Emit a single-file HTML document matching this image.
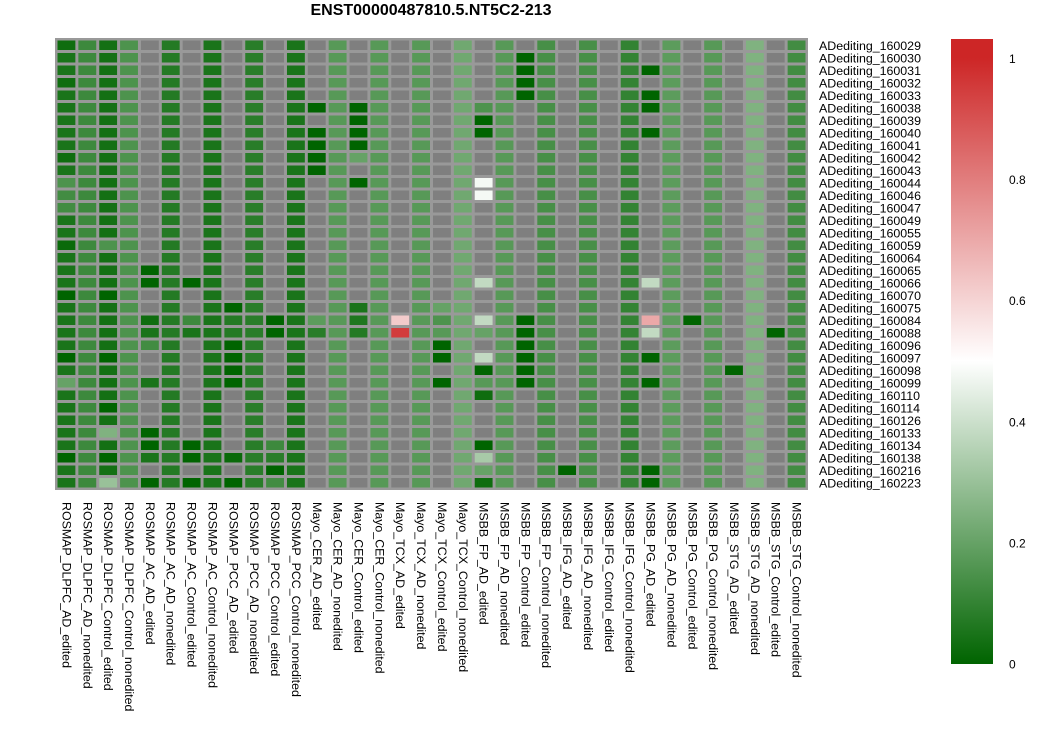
<!DOCTYPE html>
<html><head><meta charset="utf-8"><style>
body{margin:0;background:#fff;}
svg text{font-family:"Liberation Sans",sans-serif;}
</style></head><body>
<svg id="chart" width="1059" height="741" xmlns="http://www.w3.org/2000/svg">
<defs><linearGradient id="lg" x1="0" y1="1" x2="0" y2="0">
<stop offset="0" stop-color="#006400"/><stop offset="0.485" stop-color="#ffffff"/><stop offset="0.97" stop-color="#cd2626"/><stop offset="1" stop-color="#cd2626"/></linearGradient></defs>
<text x="431" y="15" text-anchor="middle" font-size="16" font-weight="bold">ENST00000487810.5.NT5C2-213</text>
<rect x="55" y="38" width="753" height="452" fill="#999"/>
<g id="cells"></g><g id="rlabels"></g><g id="clabels"></g>
<rect x="951" y="39" width="42" height="625" fill="url(#lg)"/>
<g id="legticks"></g>
</svg>
<script>
const rowNames=["160029","160030","160031","160032","160033","160038","160039","160040","160041","160042","160043","160044","160046","160047","160049","160055","160059","160064","160065","160066","160070","160075","160084","160088","160096","160097","160098","160099","160110","160114","160126","160133","160134","160138","160216","160223"];
const colNames=["ROSMAP_DLPFC_AD_edited","ROSMAP_DLPFC_AD_nonedited","ROSMAP_DLPFC_Control_edited","ROSMAP_DLPFC_Control_nonedited","ROSMAP_AC_AD_edited","ROSMAP_AC_AD_nonedited","ROSMAP_AC_Control_edited","ROSMAP_AC_Control_nonedited","ROSMAP_PCC_AD_edited","ROSMAP_PCC_AD_nonedited","ROSMAP_PCC_Control_edited","ROSMAP_PCC_Control_nonedited","Mayo_CER_AD_edited","Mayo_CER_AD_nonedited","Mayo_CER_Control_edited","Mayo_CER_Control_nonedited","Mayo_TCX_AD_edited","Mayo_TCX_AD_nonedited","Mayo_TCX_Control_edited","Mayo_TCX_Control_nonedited","MSBB_FP_AD_edited","MSBB_FP_AD_nonedited","MSBB_FP_Control_edited","MSBB_FP_Control_nonedited","MSBB_IFG_AD_edited","MSBB_IFG_AD_nonedited","MSBB_IFG_Control_edited","MSBB_IFG_Control_nonedited","MSBB_PG_AD_edited","MSBB_PG_AD_nonedited","MSBB_PG_Control_edited","MSBB_PG_Control_nonedited","MSBB_STG_AD_edited","MSBB_STG_AD_nonedited","MSBB_STG_Control_edited","MSBB_STG_Control_nonedited"];
const colBase=[0.05,0.12,0.04,0.15,null,0.07,null,0.05,null,0.08,null,0.05,null,0.17,null,0.17,null,0.17,null,0.22,null,0.17,null,0.14,null,0.14,null,0.1,null,0.18,null,0.17,null,0.25,null,0.13];
// overrides: [row, col, value]
const cellOverrides=[[5,12,0],[5,14,0],[6,14,0],[7,12,0],[7,14,0],[8,12,0],[8,14,0],[9,12,0],[9,14,0.2],[10,12,0],[11,14,0],[16,2,0.15],[0,0,0.03],[3,0,0.03],[9,0,0.03],[16,0,0.02],[11,0,0.15],[12,0,0.13],[13,0,0.13],
[1,22,0],[2,22,0],[2,28,0],[3,22,0],[4,22,0],[4,28,0],[5,20,0.15],[5,28,0],[6,20,0],[7,20,0],[7,28,0],[11,20,0.48],[12,20,0.48],
[18,4,0],[19,4,0],[19,6,0],[20,0,0],[20,2,0],[21,8,0],[21,14,0.05],[22,4,0.03],[22,6,0.12],[22,8,0.07],[22,10,0],[22,12,0.18],[22,14,0.06],[22,16,0.62],[23,4,0.05],[23,6,0.05],[23,8,0.07],[23,10,0],[23,12,0.08],[23,14,0.07],[23,16,0.95],[24,4,0.13],[24,8,0],[25,0,0],[25,2,0],[25,8,0],[26,8,0],[27,0,0.2],[27,4,0.05],[27,8,0],[29,2,0],[31,2,0.25],[31,4,0],[32,4,0],[32,6,0],[32,10,0.12],[33,0,0],[33,2,0],[33,4,0.05],[33,6,0],[33,8,0.02],[33,10,0.08],[34,10,0],[35,2,0.3],[35,4,0],[35,6,0],[35,8,0],[35,10,0.13],
[19,20,0.38],[19,28,0.38],[21,18,0.2],[22,18,0.15],[22,20,0.38],[22,22,0],[22,28,0.7],[22,30,0],[23,18,0.17],[23,20,0.2],[23,22,0],[23,28,0.38],[23,34,0],[24,18,0],[24,22,0],[25,18,0],[25,20,0.38],[25,22,0],[25,28,0],[26,20,0],[26,22,0],[26,32,0],[27,18,0],[27,20,0.17],[27,22,0],[27,28,0],[28,20,0.03],[32,20,0],[33,20,0.33],[34,20,0.2],[34,24,0],[34,28,0],[35,20,0.03],[35,28,0]];
const legendTicks=[0,0.2,0.4,0.6,0.8,1];

const NS="http://www.w3.org/2000/svg";
const x0=56,x1=807,y0=39,y1=489;
const cw=(x1-x0)/colNames.length, ch=(y1-y0)/rowNames.length;
const xPos=c=>x0+c*cw, yPos=r=>y0+r*ch;
function lerp(a,b,t){return Math.round(a+(b-a)*t);}
function color(v){
  if(v==null) return "#7f7f7f";
  if(v<=0.5){const t=v/0.5;return `rgb(${lerp(0,255,t)},${lerp(100,255,t)},${lerp(0,255,t)})`;}
  const t=Math.min(1,(v-0.5)/0.5);return `rgb(${lerp(255,205,t)},${lerp(255,38,t)},${lerp(255,38,t)})`;
}
const vals=rowNames.map(()=>colBase.slice());
cellOverrides.forEach(([r,c,v])=>{vals[r][c]=v;});
const cells=document.getElementById('cells');
vals.forEach((row,r)=>row.forEach((v,c)=>{
  const el=document.createElementNS(NS,'rect');
  el.setAttribute('x',xPos(c)+1.5);el.setAttribute('y',yPos(r)+1.5);
  el.setAttribute('width',cw-3);el.setAttribute('height',ch-3);
  el.setAttribute('fill',color(v));
  
  
  cells.appendChild(el);
}));
const rl=document.getElementById('rlabels');
rowNames.forEach((n,r)=>{
  const t=document.createElementNS(NS,'text');
  t.setAttribute('x',819);t.setAttribute('y',yPos(r)+ch/2+4.5);t.setAttribute('font-size','12.4');
  t.textContent='ADediting_'+n;
  
  
  rl.appendChild(t);
});
const cl=document.getElementById('clabels');
colNames.forEach((n,c)=>{
  const t=document.createElementNS(NS,'text');
  const x=xPos(c)+cw/2-4, y=502;
  t.setAttribute('transform',`translate(${x},${y}) rotate(90)`);t.setAttribute('font-size','12.4');
  t.textContent=n;
  
  
  cl.appendChild(t);
});
const lt=document.getElementById('legticks');
legendTicks.forEach(v=>{
  const t=document.createElementNS(NS,'text');
  t.setAttribute('x',1009);t.setAttribute('y',664-v*605.5+4.5);t.setAttribute('font-size','12');
  t.textContent=String(v);
  
  
  lt.appendChild(t);
});
</script>
</body></html>
